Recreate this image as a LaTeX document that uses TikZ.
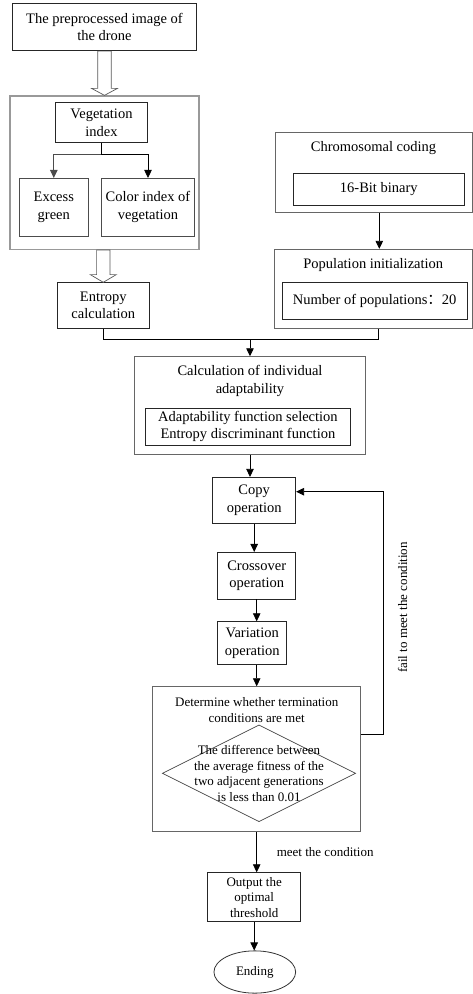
\documentclass[tikz,border=0pt]{standalone}
\usepackage{fontspec}
\setmainfont{Liberation Serif}
\newfontfamily\cjkfont{Noto Sans CJK SC}
\usetikzlibrary{arrows.meta,shapes.geometric,calc}
\begin{document}
\begin{tikzpicture}[x=1pt,y=-1pt,
  big/.style={font=\fontsize{14.5}{17.5}\selectfont},
  small/.style={font=\fontsize{13}{15.6}\selectfont},
  box/.style={draw=black!85,line width=0.8pt,inner sep=0pt,align=center,big},
  frame/.style={draw=black!60,line width=0.9pt,inner sep=0pt},
  conn/.style={line width=0.8pt,-{Triangle[length=8pt,width=7.5pt]}},
  plainline/.style={line width=0.8pt},
  hollow/.style={draw=black!65,line width=0.7pt,fill=white}
]
\useasboundingbox (0,0) rectangle (473,994);

% left column
\node[box,minimum width=184.4pt,minimum height=47.4pt] (top) at (104.5,27) {The preprocessed image of\\the drone};
\node[frame,draw=black!40,line width=1.4pt,minimum width=189pt,minimum height=153.3pt] (vegframe) at (104.5,172.7) {};
\node[box,minimum width=91.6pt,minimum height=40pt] (veg) at (101.5,122.7) {Vegetation\\index};
\node[box,draw=black!70,minimum width=69pt,minimum height=57.7pt] (exg) at (53.8,207.2) {Excess\\green};
\node[box,draw=black!70,minimum width=92.6pt,minimum height=57.7pt] (cive) at (148,207.2) {Color index of\\vegetation};
\node[box,minimum width=92pt,minimum height=45.6pt] (ent) at (103.3,305.5) {Entropy\\calculation};

\draw[hollow] ($(top.south)+(-6.7,0)$) -- ($(vegframe.north)+(-6.7,-7)$) -- ($(vegframe.north)+(-13,-7)$) -- (vegframe.north) -- ($(vegframe.north)+(13,-7)$) -- ($(vegframe.north)+(6.7,-7)$) -- ($(top.south)+(6.7,0)$) -- cycle;
\coordinate (vfs) at (vegframe.south -| ent.north);
\draw[hollow] ($(vfs)+(-6.7,0)$) -- ($(ent.north)+(-6.7,-7.7)$) -- ($(ent.north)+(-13,-7.7)$) -- (ent.north) -- ($(ent.north)+(13,-7.7)$) -- ($(ent.north)+(6.7,-7.7)$) -- ($(vfs)+(6.7,0)$) -- cycle;

\draw[conn,black!70] (veg.south) -- ++(0,11.6) -| (exg.north);
\draw[conn] (veg.south) -- ++(0,11.6) -| (cive.north);

% right column
\node[frame,minimum width=197pt,minimum height=79.6pt] (chrom) at (373.5,172.5) {};
\node[big] (chromt) at (373.5,148.3) {Chromosomal coding};
\node[box,minimum width=171pt,minimum height=31.7pt] (bit) at (378.8,189.2) {16-Bit binary};
\node[frame,minimum width=197.5pt,minimum height=79pt] (pop) at (373.3,288.8) {};
\node[big] (popt) at (373.3,265) {Population initialization};
\node[box,minimum width=184.7pt,minimum height=36.6pt] (num) at (374.7,301) {Number of populations{\cjkfont ：}20};
\draw[conn] ($(chrom.south)+(5.8,0)$) -- ($(pop.north)+(6,0)$);

% merge
\coordinate (mj) at (250,339.3);
\draw[plainline] (ent.south) |- (mj);
\draw[plainline] ($(pop.south)+(5,0)$) |- (mj);

\node[frame,minimum width=231.4pt,minimum height=97.6pt] (calc) at (250,405.5) {};
\draw[conn] (mj) -- (calc.north);
\node[big,align=center] (calct) at (250,381.2) {Calculation of individual\\adaptability};
\node[box,minimum width=204.3pt,minimum height=36.7pt] (adapt) at (247.9,426.7) {Adaptability function selection\\Entropy discriminant function};

% loop
\node[box,minimum width=83pt,minimum height=46pt] (copy) at (254.2,500.3) {Copy\\operation};
\draw[conn] (calc.south) -- (calc.south |- copy.north);
\node[box,minimum width=78pt,minimum height=46.7pt] (cross) at (256.7,575.7) {Crossover\\operation};
\draw[conn] (copy.south) -- (copy.south |- cross.north);
\node[box,minimum width=69pt,minimum height=42.6pt] (var) at (252.2,643) {Variation\\operation};
\draw[conn] (cross.south) -- (cross.south |- var.north);

\node[frame,minimum width=208pt,minimum height=145pt] (det) at (256.7,759.2) {};
\draw[conn] (det.north |- var.south) -- (det.north);
\node[small,align=center] (dett) at (256.7,710.3) {Determine whether termination\\conditions are met};
\node[draw=black!75,line width=0.7pt,diamond,minimum width=193.4pt,minimum height=96.7pt,inner sep=0pt] (dia) at (259,773.3) {};
\node[small,align=center] (diat) at (259,773.5) {The difference between\\the average fitness of the\\two adjacent generations\\is less than 0.01};

\node[box,small,minimum width=93pt,minimum height=49pt] (out) at (254.2,897.2) {Output the\\optimal\\threshold};
\draw[conn] (det.south) -- (det.south |- out.north);
\node[small,anchor=west] (meet) at (273.3,851.7) {meet the condition};
\node[draw=black!80,line width=0.8pt,ellipse,minimum width=81.7pt,minimum height=42.3pt,inner sep=0pt,small] (end) at (254.8,972) {Ending};
\draw[conn] (out.south) -- (out.south |- end.north);

% feedback
\coordinate (fb) at (383.3,734.3);
\draw[conn] (det.east |- fb) -- (fb) |- ($(copy.east)+(0,-8.6)$);
\node[small,rotate=90] (fail) at (402.7,607.5) {fail to meet the condition};
\end{tikzpicture}
\end{document}
